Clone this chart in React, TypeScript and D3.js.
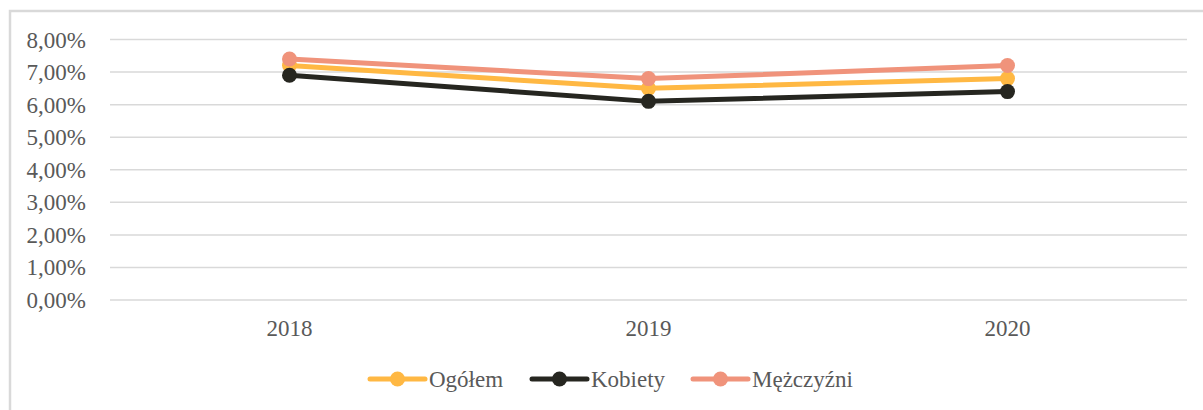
import React from "react";
import * as d3 from "d3";

const categories = ["2018", "2019", "2020"];
const seriesNames = ["Ogółem", "Kobiety", "Mężczyźni"];
const ogolem = [7.2, 6.5, 6.8];
const kobiety = [6.9, 6.1, 6.4];
const mezczyzni = [7.4, 6.8, 7.2];
const yTicks = [0, 1, 2, 3, 4, 5, 6, 7, 8];
const colors = ["#FFB843", "#262620", "#F0937B"];

const W = 1203;
const H = 410;
const plotLeft = 110;
const plotRight = 1187;
const plotTop = 39.5;
const plotBottom = 300;
const font = "'Times New Roman', 'Liberation Serif', 'DejaVu Serif', serif";

export default function App() {
  const x = d3.scaleBand<string>().domain(categories).range([plotLeft, plotRight]);
  const y = d3.scaleLinear().domain([0, 8]).range([plotBottom, plotTop]);
  const fmt = (v: number) => v.toFixed(2).replace(".", ",") + "%";
  const data = [ogolem, kobiety, mezczyzni];
  const line = d3
    .line<number>()
    .x((_, i) => (x(categories[i]) as number) + x.bandwidth() / 2)
    .y((d) => y(d));

  const legendItems = [
    { lineX: 370, textX: 429 },
    { lineX: 532, textX: 591 },
    { lineX: 693, textX: 752 },
  ];
  const legendY = 379;
  const ts = { fontFamily: font, fontSize: 23, fill: "#595959" };

  return (
    <div style={{ position: "absolute", left: 0, top: 0 }}>
      <svg width={W} height={H} style={{ display: "block" }}>
        <rect x={0} y={0} width={W} height={H} fill="#fff" />
        <rect x={10} y={11} width={W + 20} height={H + 20} fill="none" stroke="#d9d9d9" strokeWidth={2.5} />
        {yTicks.map((t) => (
          <g key={t}>
            <line x1={plotLeft} x2={plotRight} y1={y(t)} y2={y(t)} stroke="#d9d9d9" strokeWidth={1.5} />
            <text x={86} y={y(t)} dy="0.35em" textAnchor="end" style={ts}>
              {fmt(t)}
            </text>
          </g>
        ))}
        {categories.map((c) => (
          <text
            key={c}
            x={(x(c) as number) + x.bandwidth() / 2}
            y={328}
            dy="0.35em"
            textAnchor="middle"
            style={ts}
          >
            {c}
          </text>
        ))}
        {data.map((s, si) => (
          <g key={si}>
            <path d={line(s) || ""} fill="none" stroke={colors[si]} strokeWidth={5} strokeLinejoin="round" strokeLinecap="round" />
            {s.map((v, i) => (
              <circle
                key={i}
                cx={(x(categories[i]) as number) + x.bandwidth() / 2}
                cy={y(v)}
                r={7.5}
                fill={colors[si]}
              />
            ))}
          </g>
        ))}
        {seriesNames.map((n, i) => (
          <g key={n}>
            <line
              x1={legendItems[i].lineX}
              x2={legendItems[i].lineX + 55}
              y1={legendY}
              y2={legendY}
              stroke={colors[i]}
              strokeWidth={5}
              strokeLinecap="round"
            />
            <circle cx={legendItems[i].lineX + 27.5} cy={legendY} r={7.5} fill={colors[i]} />
            <text x={legendItems[i].textX} y={legendY} dy="0.35em" style={ts}>
              {n}
            </text>
          </g>
        ))}
      </svg>
    </div>
  );
}
